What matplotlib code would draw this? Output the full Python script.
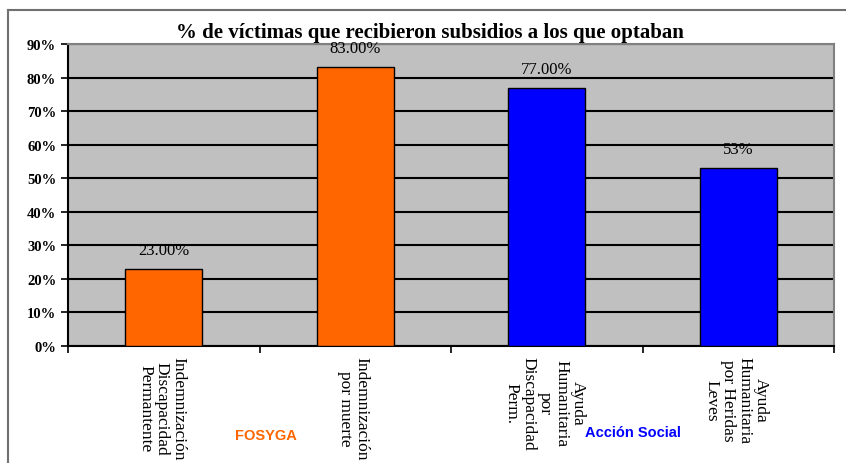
import numpy as np
import matplotlib.pyplot as plt
from matplotlib.lines import Line2D
from matplotlib.transforms import blended_transform_factory

categorias = ['Indemnización\nDiscapacidad\nPermantente',
              'Indemnización\npor muerte',
              'Ayuda\nHumanitaria\npor\nDiscapacidad\nPerm.',
              'Ayuda\nHumanitaria\npor Heridas\nLeves']
valores = [23.0, 83.0, 77.0, 53.0]
etiquetas = ['23.00%', '83.00%', '77.00%', '53%']
colores = ['#FF6600', '#FF6600', '#0000FF', '#0000FF']
grupos = ['FOSYGA', 'Acción Social']
yticks = [0, 10, 20, 30, 40, 50, 60, 70, 80, 90]

serif = 'Liberation Serif'

fig = plt.figure(figsize=(8.46, 4.64), dpi=100)
ax = fig.add_axes([68/846, 1-347/464, (834-68)/846, (347-45)/464])
ax.set_facecolor('#C0C0C0')

x = np.arange(len(valores))
ax.bar(x, valores, width=0.4, color=colores, edgecolor='black', linewidth=1, zorder=3)

ax.set_xlim(-0.5, len(valores)-0.5)
ax.set_ylim(0, 90)
ax.set_yticks(yticks)
ax.set_yticklabels([f'{v}%' for v in yticks], fontfamily=serif, fontweight='bold', fontsize=10.5)
ax.yaxis.grid(True, color='black', linewidth=1.5, zorder=1)
ax.set_axisbelow(True)

ax.set_xticks(np.arange(-0.5, len(valores), 1))
ax.set_xticklabels([])
ax.tick_params(axis='both', direction='out', length=5, width=1.2, color='black')

for s in ['top', 'right']:
    ax.spines[s].set_color('#808080')
    ax.spines[s].set_linewidth(1.5)
for s in ['left', 'bottom']:
    ax.spines[s].set_color('black')
    ax.spines[s].set_linewidth(1.5)

# etiquetas de valor
for xi, v, t in zip(x, valores, etiquetas):
    ax.annotate(t, (xi, v), xytext=(0, 8), textcoords='offset points',
                ha='center', va='bottom', fontfamily=serif, fontsize=12)

# etiquetas de categoria verticales
trans = blended_transform_factory(ax.transData, fig.transFigure)
for xi, c in zip(x, categorias):
    ax.text(xi - 0.01, 1-357/464, c, transform=trans, rotation=270,
            ha='center', va='top', multialignment='center',
            fontfamily=serif, fontsize=12.5, linespacing=1.05)

fig.text(266/846, 1-436/464, grupos[0], color='#FF6600', fontweight='bold',
         fontfamily='Liberation Sans', fontsize=10.5, ha='center', va='center')
fig.text(633/846, 1-433/464, grupos[1], color='#0000FF', fontweight='bold',
         fontfamily='Liberation Sans', fontsize=10.5, ha='center', va='center')

fig.text(430/846, 1-33/464, '% de víctimas que recibieron subsidios a los que optaban',
         ha='center', va='center', fontfamily=serif, fontweight='bold', fontsize=15)

# marco exterior
fig.add_artist(Line2D([8/846, 1], [1-11/464, 1-11/464], color='#707070', linewidth=1.5))
fig.add_artist(Line2D([8/846, 8/846], [0, 1-11/464], color='#707070', linewidth=1.5))

fig.savefig('out.png', dpi=100)
